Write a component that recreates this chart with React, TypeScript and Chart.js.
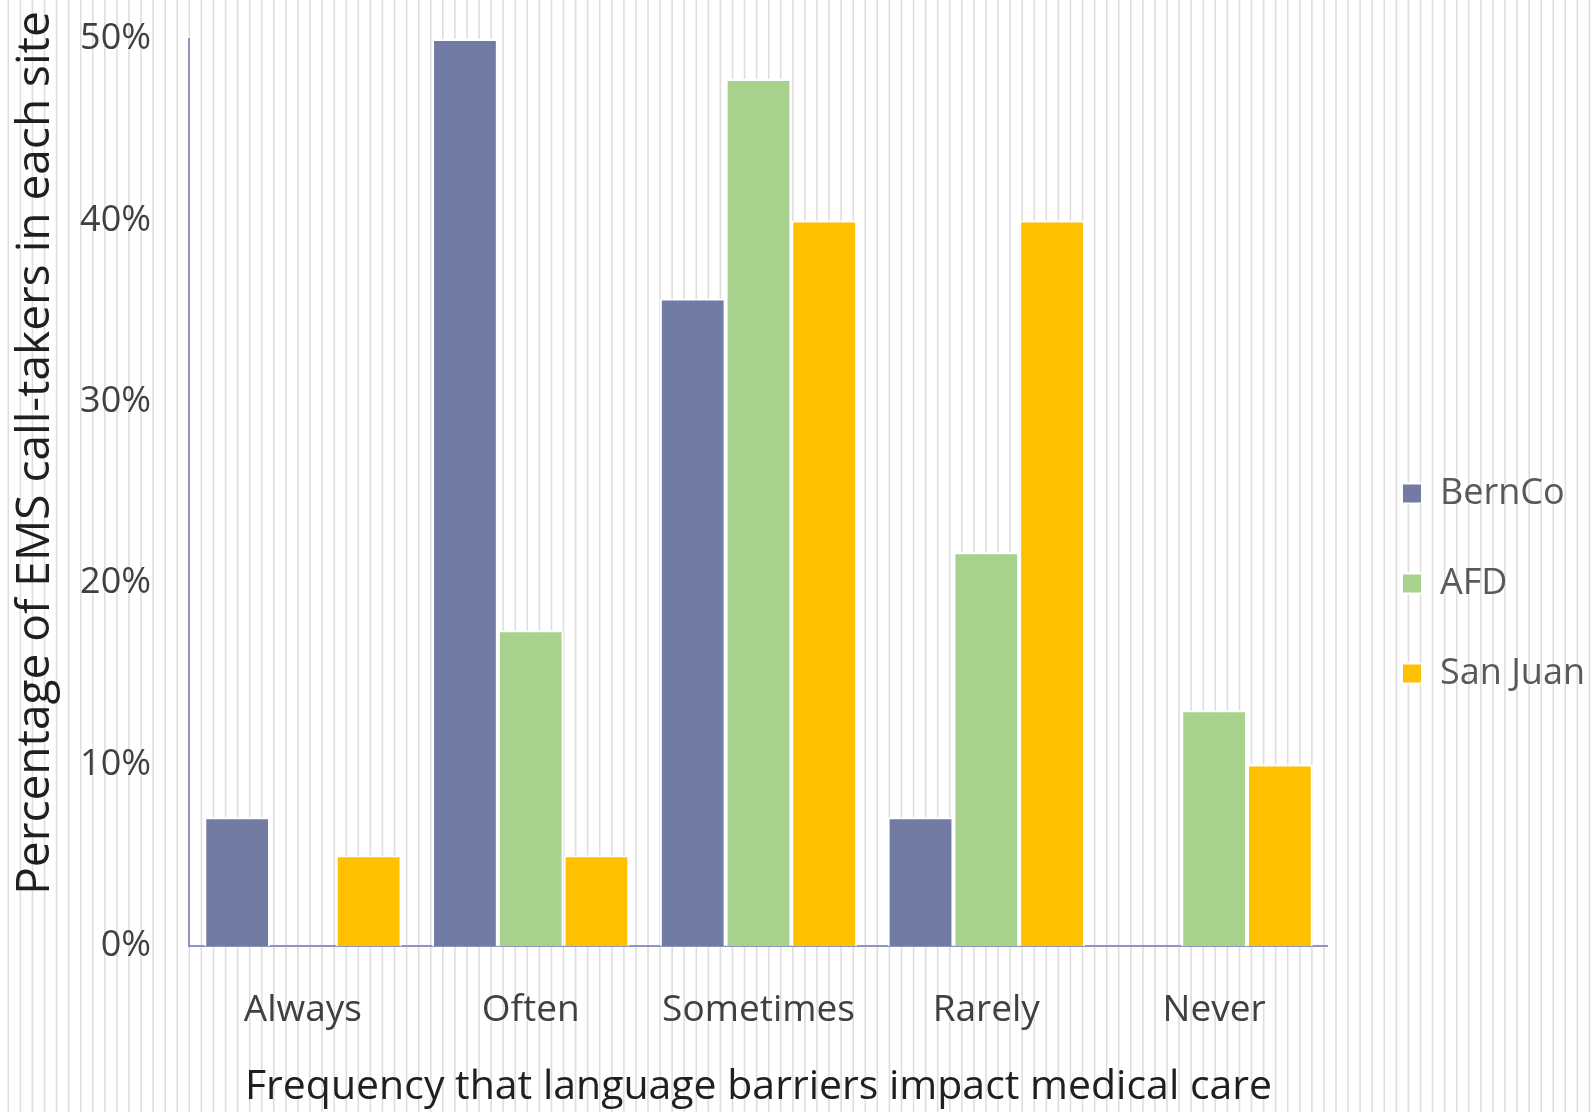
import React, { useEffect, useRef } from "react";
import { Chart, registerables } from "chart.js";

Chart.register(...registerables);

const categories = ["Always", "Often", "Sometimes", "Rarely", "Never"];
const seriesNames = ["BernCo", "AFD", "San Juan"];
const bernCo = [7.1, 50.0, 35.7, 7.1, 0];
const afd = [0, 17.4, 47.8, 21.7, 13.0];
const sanJuan = [5.0, 5.0, 40.0, 40.0, 10.0];
const seriesColors = ["#717BA3", "#A9D18E", "#FFC000"];
const yTicks = [0, 10, 20, 30, 40, 50];
const xTitle = "Frequency that language barriers impact medical care";
const yTitle = "Percentage of EMS call-takers in each site";

const FONT = "'Open Sans', 'Noto Sans', sans-serif";

const stripes = {
  id: "stripes",
  beforeDraw(chart: any) {
    const { ctx, width, height } = chart;
    ctx.save();
    ctx.fillStyle = "#ffffff";
    ctx.fillRect(0, 0, width, height);
    ctx.strokeStyle = "#dedede";
    ctx.lineWidth = 1.6;
    for (let x = 8.3; x < width; x += 12.07) {
      ctx.beginPath();
      ctx.moveTo(x, 0);
      ctx.lineTo(x, height);
      ctx.stroke();
    }
    ctx.restore();
  },
};

// nudge legend to the right, away from the plot area
const legendShift = {
  id: "legendShift",
  afterLayout(chart: any) {
    const l = chart.legend;
    if (l) {
      l.left += 20;
      l.right += 20;
    }
  },
};

// y-axis title, drawn a bit above the axis centre like the original
const yTitlePlugin = {
  id: "yTitlePlugin",
  afterDraw(chart: any) {
    const { ctx } = chart;
    ctx.save();
    ctx.translate(36, 453);
    ctx.rotate(-Math.PI / 2);
    ctx.font = "46px " + FONT;
    ctx.fillStyle = "#1f1f1f";
    ctx.textAlign = "center";
    ctx.textBaseline = "middle";
    ctx.fillText(yTitle, 0, 0);
    ctx.restore();
  },
};

export default function App() {
  const ref = useRef<HTMLCanvasElement | null>(null);
  useEffect(() => {
    if (!ref.current) return;
    const data = [bernCo, afd, sanJuan];
    const chart = new Chart(ref.current, {
      type: "bar",
      data: {
        labels: categories,
        datasets: seriesNames.map((name, i) => ({
          label: name,
          data: data[i],
          backgroundColor: seriesColors[i],
          borderColor: "#ffffff",
          borderWidth: 2,
          barPercentage: 1,
          categoryPercentage: 0.866,
        })),
      },
      options: {
        animation: false,
        responsive: false,
        devicePixelRatio: 1,
        layout: { padding: { top: 39, right: 21, left: 0, bottom: 0 } },
        plugins: {
          tooltip: { enabled: false },
          legend: {
            position: "right",
            title: { display: true, text: " ", font: { size: 10 }, padding: 2 },
            labels: {
              boxWidth: 20,
              boxHeight: 20,
              padding: 54,
              color: "#595959",
              font: { family: FONT, size: 36 },
            },
          },
        },
        scales: {
          x: {
            z: 1,
            grid: { display: false, drawTicks: false, tickLength: 0 },
            border: { display: true, color: "#8E96BF", width: 2 },
            ticks: {
              color: "#404040",
              padding: 42,
              font: { family: FONT, size: 37 },
            },
            title: {
              display: true,
              text: xTitle,
              color: "#1f1f1f",
              font: { family: FONT, size: 41 },
              padding: { top: 0, bottom: 0 },
            },
            afterFit(scale: any) {
              scale.height = 166;
            },
          },
          y: {
            z: 1,
            min: 0,
            max: 50,
            afterBuildTicks(scale: any) {
              scale.ticks = yTicks.map((v) => ({ value: v }));
            },
            grid: { display: false, drawTicks: false, tickLength: 0 },
            border: { display: true, color: "#8E96BF", width: 2 },
            ticks: {
              color: "#404040",
              padding: 38,
              font: { family: FONT, size: 36 },
              callback: (v: any) => v + "%",
            },
            title: { display: false, text: yTitle },
            afterFit(scale: any) {
              scale.width = 189;
              scale.paddingTop = 0;
            },
          },
        },
      },
      plugins: [stripes, legendShift, yTitlePlugin],
    });
    return () => chart.destroy();
  }, []);
  return (
    <div style={{ position: "fixed", left: 0, top: 0, width: 1596, height: 1112 }}>
      <canvas ref={ref} width={1596} height={1112} style={{ width: 1596, height: 1112 }} />
    </div>
  );
}
